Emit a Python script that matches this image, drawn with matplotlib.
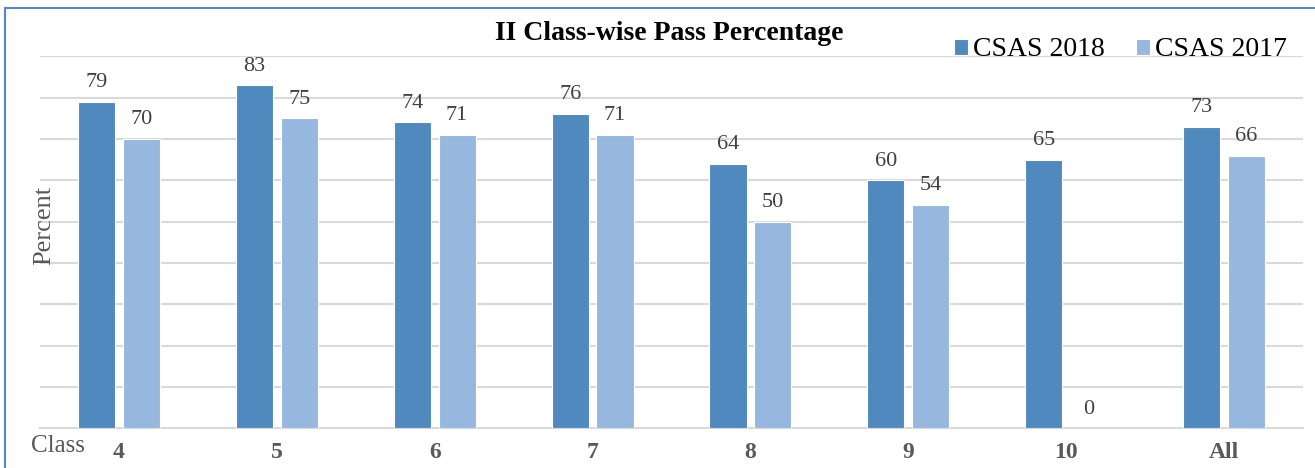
import matplotlib
matplotlib.use("Agg")
import matplotlib.pyplot as plt
from matplotlib.patches import Rectangle
import numpy as np

plt.rcParams['font.family'] = ['Liberation Serif', 'DejaVu Serif']

classes = ['4', '5', '6', '7', '8', '9', '10', 'All']
csas_2018 = [79, 83, 74, 76, 64, 60, 65, 73]
csas_2017 = [70, 75, 71, 71, 50, 54, 0, 66]

dark = '#4F89BD'
light = '#96B8DF'
W, H = 1315, 468

fig = plt.figure(figsize=(W / 100, H / 100), dpi=100)
ax = fig.add_axes([40 / W, 1 - 428.3 / H, (1303 - 40) / W, (428.3 - 56.3) / H])

x = np.arange(len(classes))
bw = 0.235
off = 0.142
b1 = ax.bar(x - off, csas_2018, bw, color=dark, edgecolor='white', linewidth=0.8,
            label='CSAS 2018', zorder=3)
b2 = ax.bar(x + off, csas_2017, bw, color=light, edgecolor='white', linewidth=0.8,
            label='CSAS 2017', zorder=3)
ax.bar_label(b1, padding=7, fontsize=16, color='#404040')
ax.bar_label(b2, padding=7, fontsize=16, color='#404040')

ax.set_xlim(-0.5, len(classes) - 0.5)
ax.set_ylim(0, 90)
ax.set_yticks(np.arange(0, 91, 10))
ax.set_yticklabels([])
ax.yaxis.grid(True, color='#D9D9D9', linewidth=1.5, zorder=0)
ax.tick_params(length=0)
ax.set_xticks(x)
ax.set_xticklabels(classes, fontsize=17, fontweight='bold', color='#595959')
ax.tick_params(axis='x', pad=10)
for s in ['top', 'right', 'left']:
    ax.spines[s].set_visible(False)
ax.spines['bottom'].set_color('#D9D9D9')
ax.spines['bottom'].set_linewidth(1.5)

fig.text(669 / W, 1 - 33 / H, 'II Class-wise Pass Percentage', fontsize=20,
         fontweight='bold', ha='center', va='center', color='black')
fig.text(58 / W, 1 - 446 / H, 'Class', fontsize=18, color='#595959',
         ha='center', va='center')
fig.text(44 / W, 1 - 225 / H, 'Percent', fontsize=19, color='#595959',
         rotation=90, ha='center', va='center')

fig.legend(handles=[b1, b2], loc='center right', bbox_to_anchor=(1287 / W, 1 - 50 / H),
           ncol=2, frameon=False, fontsize=20, handlelength=0.5, handleheight=0.5,
           handletextpad=0.2, columnspacing=1.1, borderpad=0, borderaxespad=0)

fig.add_artist(Rectangle((5 / W, -0.1), 1.1, 1.1 - 8 / H, transform=fig.transFigure,
                         fill=False, edgecolor='#5B84CF', linewidth=1.5))

fig.savefig('out.png', dpi=100)
